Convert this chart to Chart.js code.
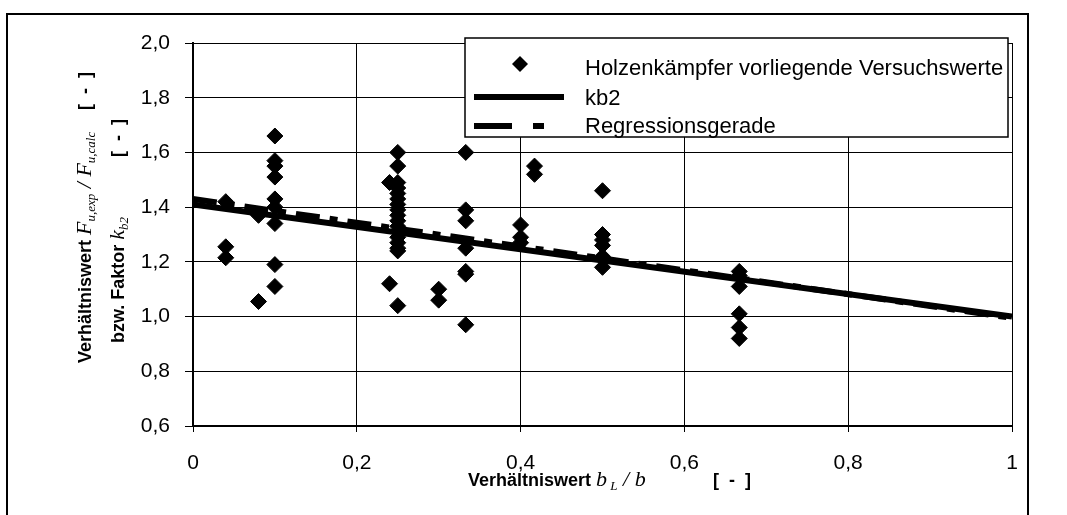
<!DOCTYPE html>
<html>
<head>
<meta charset="utf-8">
<script src="https://cdn.jsdelivr.net/npm/chart.js@4/dist/chart.umd.min.js"></script>
<style>
  html, body { margin: 0; padding: 0; background: #fff; }
  canvas { display: block; }
</style>
</head>
<body>
<canvas id="kbChart" width="1067" height="515"></canvas>
<script>
// measured values (x = b_L / b, y = F_u,exp / F_u,calc)
var pointsX = [
  0.04, 0.04, 0.04,
  0.08, 0.08,
  0.10, 0.10, 0.10, 0.10, 0.10, 0.10, 0.10, 0.10, 0.10,
  0.24, 0.24,
  0.25, 0.25, 0.25, 0.25, 0.25, 0.25, 0.25, 0.25, 0.25, 0.25, 0.25, 0.25, 0.25, 0.25, 0.25, 0.25, 0.25,
  0.30, 0.30,
  0.333, 0.333, 0.333, 0.333, 0.333, 0.333, 0.333,
  0.40, 0.40, 0.40,
  0.417, 0.417,
  0.50, 0.50, 0.50, 0.50, 0.50, 0.50,
  0.667, 0.667, 0.667, 0.667, 0.667, 0.667
]
var pointsY = [
  1.42, 1.255, 1.215,
  1.37, 1.055,
  1.66, 1.57, 1.55, 1.51, 1.43, 1.40, 1.34, 1.19, 1.11,
  1.49, 1.12,
  1.60, 1.55, 1.49, 1.47, 1.45, 1.43, 1.41, 1.39, 1.37, 1.35, 1.33, 1.31, 1.29, 1.27, 1.25, 1.24, 1.04,
  1.10, 1.06,
  1.60, 1.39, 1.35, 1.25, 1.165, 1.155, 0.97,
  1.335, 1.29, 1.27,
  1.55, 1.52,
  1.46, 1.30, 1.28, 1.26, 1.22, 1.18,
  1.165, 1.15, 1.11, 1.01, 0.96, 0.92
]
var kb2X = [0, 1]
var kb2Y = [1.41, 1.0]
var regX = [0, 1]
var regY = [1.43, 0.995]

var seriesNames = ['Holzenkämpfer vorliegende Versuchswerte', 'kb2', 'Regressionsgerade']
var yTicks = [0.6, 0.8, 1.0, 1.2, 1.4, 1.6, 1.8, 2.0]
var xTicks = [0, 0.2, 0.4, 0.6, 0.8, 1]

function toPoints(xs, ys) {
  return xs.map(function (x, i) { return { x: x, y: ys[i] } })
}
function comma(v, digits) {
  return v.toFixed(digits).replace('.', ',')
}

// draws a run of text pieces with mixed fonts, starting at (0,0) on the baseline
function drawRuns(ctx, runs) {
  var pos = 0
  runs.forEach(function (r) {
    if (r.at !== undefined) pos = r.at
    ctx.font = r.font
    ctx.fillText(r.text, pos, r.dy || 0)
    pos += ctx.measureText(r.text).width
  })
}

var BOLD = 'bold 18px "Liberation Sans", Arial, sans-serif'
var SERIF = 'italic 22px "Liberation Serif", "Times New Roman", serif'
var SUB = 'italic 13px "Liberation Serif", "Times New Roman", serif'

var decorPlugin = {
  id: 'decor',
  beforeDraw: function (chart) {
    var ctx = chart.ctx
    ctx.save()
    ctx.fillStyle = '#fff'
    ctx.fillRect(0, 0, chart.width, chart.height)
    ctx.strokeStyle = '#000'
    ctx.lineWidth = 2
    ctx.strokeRect(7, 14, 1021, 530)
    ctx.restore()
  },
  afterDraw: function (chart) {
    var ctx = chart.ctx
    ctx.save()
    ctx.fillStyle = '#000'
    ctx.textBaseline = 'alphabetic'
    ctx.textAlign = 'left'

    // y-axis title, two rotated lines
    ctx.save()
    ctx.translate(91, 363)
    ctx.rotate(-Math.PI / 2)
    drawRuns(ctx, [
      { text: 'Verhältniswert ', font: BOLD },
      { text: 'F', font: SERIF },
      { text: 'u,exp', font: SUB, dy: 4 },
      { text: ' / ', font: SERIF },
      { text: 'F', font: SERIF },
      { text: 'u,calc', font: SUB, dy: 4 },
      { text: '[  -  ]', font: BOLD, at: 253 }
    ])
    ctx.restore()

    ctx.save()
    ctx.translate(124, 343)
    ctx.rotate(-Math.PI / 2)
    drawRuns(ctx, [
      { text: 'bzw. Faktor ', font: BOLD },
      { text: 'k', font: SERIF },
      { text: 'b2', font: SUB, dy: 4 },
      { text: '[  -  ]', font: BOLD, at: 186 }
    ])
    ctx.restore()

    // x-axis title
    ctx.save()
    ctx.translate(468, 486)
    drawRuns(ctx, [
      { text: 'Verhältniswert ', font: BOLD },
      { text: 'b', font: SERIF },
      { text: ' L', font: SUB, dy: 4 },
      { text: ' / ', font: SERIF },
      { text: 'b', font: SERIF },
      { text: '[  -  ]', font: BOLD, at: 245 }
    ])
    ctx.restore()

    // legend box
    var lx = 465, ly = 38, lw = 543, lh = 99
    ctx.fillStyle = '#fff'
    ctx.fillRect(lx, ly, lw, lh)
    ctx.strokeStyle = '#000'
    ctx.lineWidth = 1.5
    ctx.strokeRect(lx, ly, lw, lh)

    var ds = chart.data.datasets
    var rows = [64, 97, 126]
    var baselines = [75, 105, 133]
    ctx.fillStyle = '#000'
    // diamond
    ctx.beginPath()
    ctx.moveTo(520, rows[0] - 8)
    ctx.lineTo(528, rows[0])
    ctx.lineTo(520, rows[0] + 8)
    ctx.lineTo(512, rows[0])
    ctx.closePath()
    ctx.fill()
    // solid
    ctx.lineWidth = 6
    ctx.setLineDash([])
    ctx.beginPath()
    ctx.moveTo(474, rows[1]); ctx.lineTo(564, rows[1])
    ctx.stroke()
    // dashed
    ctx.setLineDash([38, 21, 11, 21])
    ctx.beginPath()
    ctx.moveTo(474, rows[2]); ctx.lineTo(565, rows[2])
    ctx.stroke()
    ctx.setLineDash([])

    ctx.font = '22px "Liberation Sans", Arial, sans-serif'
    ctx.textBaseline = 'alphabetic'
    ds.forEach(function (d, i) {
      ctx.fillText(d.label, 585, baselines[i])
    })
    ctx.restore()
  }
}

new Chart('kbChart', {
  type: 'scatter',
  data: {
    datasets: [{
      label: seriesNames[0],
      data: toPoints(pointsX, pointsY),
      pointStyle: 'rectRot',
      pointRadius: 8,
      pointBackgroundColor: '#000',
      pointBorderColor: '#000',
      pointBorderWidth: 1,
      order: 3
    }, {
      label: seriesNames[1],
      data: toPoints(kb2X, kb2Y),
      showLine: true,
      borderColor: '#000',
      borderWidth: 6,
      pointRadius: 0,
      order: 1
    }, {
      label: seriesNames[2],
      data: toPoints(regX, regY),
      showLine: true,
      borderColor: '#000',
      borderWidth: 6,
      borderDash: [24, 10, 8, 10],
      pointRadius: 0,
      order: 2
    }]
  },
  options: {
    responsive: false,
    devicePixelRatio: 1,
    animation: false,
    layout: { padding: { left: 0, top: 43, right: 55, bottom: 0 } },
    plugins: {
      legend: { display: false },
      tooltip: { enabled: false }
    },
    scales: {
      x: {
        type: 'linear',
        min: 0,
        max: 1,
        afterBuildTicks: function (s) { s.ticks = xTicks.map(function (v) { return { value: v } }) },
        afterFit: function (s) { s.height = 89 },
        ticks: {
          color: '#000',
          padding: 19,
          font: { family: '"Liberation Sans", Arial, sans-serif', size: 21 },
          callback: function (v) { return (v === 0 || v === 1) ? String(v) : comma(v, 1) }
        },
        grid: { color: '#000', lineWidth: 1, tickLength: 6, tickColor: '#000' },
        border: { color: '#000', width: 2 }
      },
      y: {
        min: 0.6,
        max: 2.0,
        afterBuildTicks: function (s) { s.ticks = yTicks.map(function (v) { return { value: v } }) },
        afterFit: function (s) { s.width = 193 },
        ticks: {
          color: '#000',
          padding: 15,
          font: { family: '"Liberation Sans", Arial, sans-serif', size: 21 },
          callback: function (v) { return comma(v, 1) }
        },
        grid: { color: '#000', lineWidth: 1, tickLength: 8, tickColor: '#000' },
        border: { color: '#000', width: 2 }
      }
    }
  },
  plugins: [decorPlugin]
})
</script>
</body>
</html>
